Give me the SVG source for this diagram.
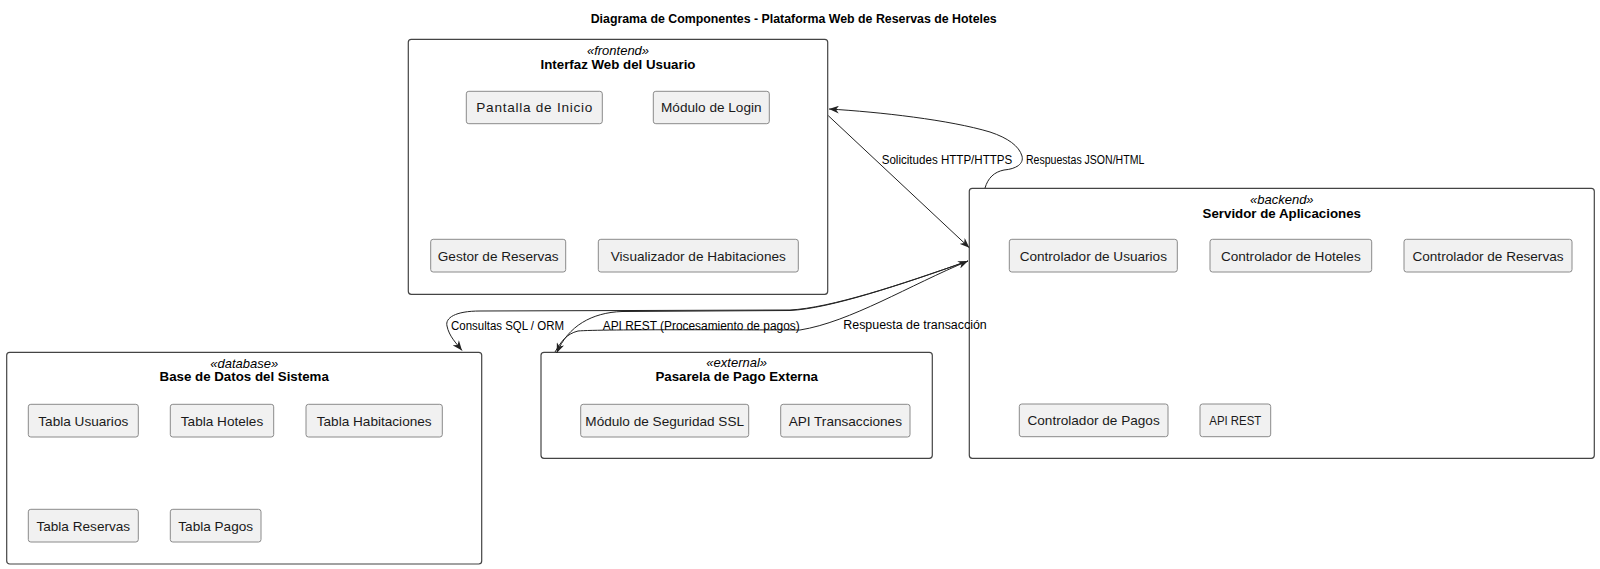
<svg xmlns="http://www.w3.org/2000/svg" width="1600" height="569" viewBox="0 0 1600 569">
<style>
.bg{fill:#ffffff}
.title{font-family:"Liberation Sans",Arial,sans-serif;font-size:12.5px;font-weight:bold;fill:#000;text-anchor:middle}
.cont{fill:#ffffff;stroke:#444;stroke-width:1.2}
.stereo{font-family:"Liberation Sans",Arial,sans-serif;font-size:13px;font-style:italic;fill:#000;text-anchor:middle}
.ctitle{font-family:"Liberation Sans",Arial,sans-serif;font-size:13.3px;font-weight:bold;fill:#000;text-anchor:middle}
.comp{fill:#f1f1f1;stroke:#8a8a8a;stroke-width:1}
.ctext{font-family:"Liberation Sans",Arial,sans-serif;font-size:13.6px;fill:#1a1a1a;text-anchor:middle}
.edge{fill:none;stroke:#222;stroke-width:1}
.elabel{font-family:"Liberation Sans",Arial,sans-serif;font-size:12px;fill:#000}
</style>
<defs>
<marker id="arr" viewBox="0 0 10 8" refX="10" refY="4" markerWidth="10" markerHeight="8" markerUnits="userSpaceOnUse" orient="auto">
<path d="M0,0 L10,4 L0,8 L3,4 Z" fill="#222"/>
</marker>
</defs>
<rect class="bg" x="0" y="0" width="1600" height="569"/>
<text class="title" x="793.7" y="22.5" textLength="406" lengthAdjust="spacingAndGlyphs">Diagrama de Componentes - Plataforma Web de Reservas de Hoteles</text>

<g id="frontend">
<rect class="cont" x="408.3" y="39.3" width="419.4" height="255" rx="3"/>
<text class="stereo" x="618" y="55.3">«frontend»</text>
<text class="ctitle" x="618" y="68.6">Interfaz Web del Usuario</text>
<g id="pantalla-inicio"><rect class="comp" x="466.3" y="91.3" width="136" height="32.4" rx="2.5"/><text class="ctext" x="534.3" y="112.4" textLength="116" lengthAdjust="spacing">Pantalla de Inicio</text></g>
<g id="modulo-login"><rect class="comp" x="653.3" y="91.3" width="116" height="32.4" rx="2.5"/><text class="ctext" x="711.3" y="112.4">Módulo de Login</text></g>
<g id="gestor-reservas"><rect class="comp" x="430.7" y="239.3" width="135" height="32.7" rx="2.5"/><text class="ctext" x="498.2" y="260.5">Gestor de Reservas</text></g>
<g id="visualizador"><rect class="comp" x="598.3" y="239.3" width="200" height="32.7" rx="2.5"/><text class="ctext" x="698.3" y="260.5">Visualizador de Habitaciones</text></g>
</g>

<g id="backend">
<rect class="cont" x="969.3" y="188.3" width="625" height="270" rx="3"/>
<text class="stereo" x="1281.8" y="204.3">«backend»</text>
<text class="ctitle" x="1281.8" y="217.6">Servidor de Aplicaciones</text>
<g id="ctrl-usuarios"><rect class="comp" x="1009.3" y="239.3" width="168" height="32.7" rx="2.5"/><text class="ctext" x="1093.3" y="260.5">Controlador de Usuarios</text></g>
<g id="ctrl-hoteles"><rect class="comp" x="1210" y="239.3" width="161.7" height="32.7" rx="2.5"/><text class="ctext" x="1290.8" y="260.5">Controlador de Hoteles</text></g>
<g id="ctrl-reservas"><rect class="comp" x="1404" y="239.3" width="168" height="32.7" rx="2.5"/><text class="ctext" x="1488" y="260.5">Controlador de Reservas</text></g>
<g id="ctrl-pagos"><rect class="comp" x="1019.3" y="404" width="148.7" height="32.7" rx="2.5"/><text class="ctext" x="1093.6" y="425.2">Controlador de Pagos</text></g>
<g id="api-rest"><rect class="comp" x="1200" y="404" width="70.7" height="32.7" rx="2.5"/><text class="ctext" x="1235.3" y="425.2" textLength="52" lengthAdjust="spacingAndGlyphs">API REST</text></g>
</g>

<g id="database">
<rect class="cont" x="6.7" y="352.3" width="475" height="211.7" rx="3"/>
<text class="stereo" x="244.2" y="367.8">«database»</text>
<text class="ctitle" x="244.2" y="380.6">Base de Datos del Sistema</text>
<g id="tabla-usuarios"><rect class="comp" x="28.3" y="404.3" width="110" height="32.7" rx="2.5"/><text class="ctext" x="83.3" y="425.5">Tabla Usuarios</text></g>
<g id="tabla-hoteles"><rect class="comp" x="170.3" y="404.3" width="103.4" height="32.7" rx="2.5"/><text class="ctext" x="222" y="425.5">Tabla Hoteles</text></g>
<g id="tabla-habitaciones"><rect class="comp" x="306" y="404.3" width="136.3" height="32.7" rx="2.5"/><text class="ctext" x="374.2" y="425.5">Tabla Habitaciones</text></g>
<g id="tabla-reservas"><rect class="comp" x="28.3" y="509.3" width="110" height="32.7" rx="2.5"/><text class="ctext" x="83.3" y="530.5">Tabla Reservas</text></g>
<g id="tabla-pagos"><rect class="comp" x="170.3" y="509.3" width="90.7" height="32.7" rx="2.5"/><text class="ctext" x="215.7" y="530.5">Tabla Pagos</text></g>
</g>

<g id="external">
<rect class="cont" x="541" y="352.3" width="391.3" height="106" rx="3"/>
<text class="stereo" x="736.7" y="367.3">«external»</text>
<text class="ctitle" x="736.7" y="380.6">Pasarela de Pago Externa</text>
<g id="modulo-ssl"><rect class="comp" x="580.7" y="404.3" width="168" height="32.7" rx="2.5"/><text class="ctext" x="664.7" y="425.5">Módulo de Seguridad SSL</text></g>
<g id="api-transacciones"><rect class="comp" x="780.7" y="404.3" width="129.3" height="32.7" rx="2.5"/><text class="ctext" x="845.3" y="425.5">API Transacciones</text></g>
</g>

<g id="connectors">
<path class="edge" d="M828.3,115.7 L969.3,247.7" marker-end="url(#arr)"/>
<path class="edge" d="M985,188 C988,178 994,172 1004,170 C1016,169 1024,164 1022,156 C1019,146 1008,138 990,132 C950,120 880,112 829,109" marker-end="url(#arr)"/>
<path class="edge" d="M968,261 C900,285 830,308 790,310 L480,311 C455,311 445,318 447,326 C449,336 456,343 462,350.5" marker-end="url(#arr)"/>
<path class="edge" d="M968,261 C900,285 830,308.5 790,310.5 L622,311.5 C592,312.5 568,326 556.7,353" marker-end="url(#arr)"/>
<path class="edge" d="M555,352 C561,342 566,334 578,331 C600,329 760,330 800,330 C850,322 910,285 968,261" marker-end="url(#arr)"/>
<text class="elabel" x="881.7" y="164.2" textLength="130.6" lengthAdjust="spacingAndGlyphs">Solicitudes HTTP/HTTPS</text>
<text class="elabel" x="1026" y="164.2" textLength="118.3" lengthAdjust="spacingAndGlyphs">Respuestas JSON/HTML</text>
<text class="elabel" x="451" y="330.2" textLength="113" lengthAdjust="spacingAndGlyphs">Consultas SQL / ORM</text>
<text class="elabel" x="602.7" y="330.2" textLength="197" lengthAdjust="spacingAndGlyphs">API REST (Procesamiento de pagos)</text>
<text class="elabel" x="843.3" y="329.2" textLength="143.4" lengthAdjust="spacingAndGlyphs">Respuesta de transacción</text>
</g>
</svg>
